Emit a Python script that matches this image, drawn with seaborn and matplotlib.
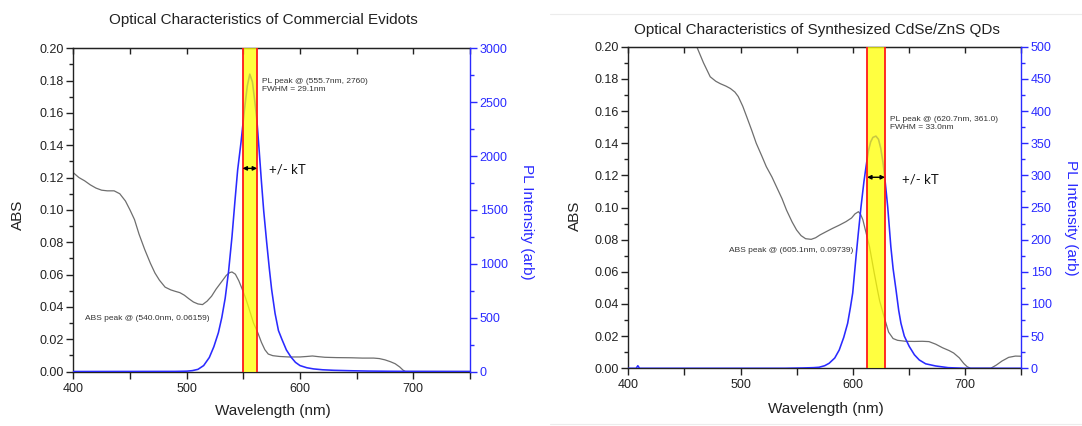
import matplotlib
matplotlib.use("Agg")
import matplotlib.pyplot as plt
from matplotlib.ticker import MultipleLocator, FormatStrFormatter
from matplotlib.lines import Line2D
import seaborn as sns

# ---------------- Commercial Evidots ----------------
evi_abs_wl = [400, 405, 410, 415, 420, 425, 430, 436, 441, 446, 450, 454, 458, 463,
              468, 472, 476, 481, 486, 490, 494, 498, 502, 506, 510, 514, 518, 522,
              526, 531, 535, 538, 540, 543, 546, 549, 552, 555, 559, 563, 566, 569,
              572, 576, 582, 590, 600, 606, 611, 616, 622, 632, 645, 655, 665, 670,
              675, 680, 684, 688, 691, 693, 750]
evi_abs = [0.123, 0.120, 0.118, 0.1155, 0.1135, 0.1122, 0.1118, 0.1118, 0.110, 0.1055,
           0.100, 0.094, 0.085, 0.0755, 0.067, 0.061, 0.0565, 0.0522, 0.0505, 0.0496,
           0.0488, 0.0472, 0.045, 0.043, 0.0418, 0.0414, 0.0435, 0.0466, 0.051, 0.0557,
           0.0595, 0.0612, 0.06159, 0.0602, 0.0562, 0.051, 0.0455, 0.039, 0.030, 0.0236,
           0.018, 0.0135, 0.0108, 0.0098, 0.0093, 0.009, 0.009, 0.0093, 0.0096, 0.0092,
           0.0088, 0.0086, 0.0085, 0.0083, 0.0083, 0.008, 0.0072, 0.006, 0.0048, 0.0028,
           0.0008, 0.0, 0.0]
evi_pl_wl = [400, 490, 500, 505, 510, 515, 520, 524, 528, 531, 534, 537, 540, 542.6,
             545, 548, 551, 553.5, 555.7, 558, 560, 562, 564, 566, 568, 570.6, 573,
             575, 578, 581, 584, 588, 592, 596, 600, 606, 612, 620, 630, 645, 660,
             680, 700, 750]
evi_pl = [0, 1, 3, 8, 20, 55, 130, 230, 360, 500, 680, 930, 1250, 1580, 1870, 2130,
          2430, 2650, 2760, 2690, 2520, 2330, 2050, 1760, 1490, 1200, 950, 760, 540,
          380, 300, 200, 135, 85, 55, 35, 24, 16, 11, 7, 4, 2, 1, 0]
evi_band = [549.3, 562.2]

# ---------------- Synthesized CdSe/ZnS QDs ----------------
qd_abs_wl = [400, 415, 430, 445, 455, 461, 467, 473, 478, 482, 487, 491, 495, 498, 502,
             505.5, 510, 514, 519, 523, 528, 532, 537, 541, 546, 550, 554, 558, 563,
             567, 571, 577, 582, 588, 594, 599, 602, 605.1, 607, 609, 612, 615, 619,
             622, 624, 628, 632, 636, 640, 647, 655, 662, 668, 674, 680, 686, 690,
             695, 699, 702, 705, 723, 728, 733, 739, 745, 750]
qd_abs = [0.31, 0.285, 0.258, 0.23, 0.212, 0.200, 0.19, 0.1813, 0.1785, 0.177, 0.1755,
          0.174, 0.1718, 0.169, 0.163, 0.1565, 0.148, 0.140, 0.132, 0.1254, 0.119,
          0.113, 0.1055, 0.0984, 0.091, 0.086, 0.0825, 0.0806, 0.0802, 0.0812, 0.083,
          0.0852, 0.087, 0.089, 0.0912, 0.0935, 0.096, 0.09739, 0.0958, 0.0925, 0.084,
          0.0756, 0.060, 0.049, 0.042, 0.032, 0.0225, 0.0185, 0.0174, 0.0168, 0.0167,
          0.0168, 0.0166, 0.015, 0.0128, 0.011, 0.0095, 0.0065, 0.003, 0.001, 0.0, 0.0,
          0.002, 0.0045, 0.0068, 0.0076, 0.0075]
qd_pl_wl = [400, 407, 408.5, 410, 540, 555, 565, 570, 575, 579, 584, 588, 592, 595.5,
            598, 600, 603, 605, 607.4, 610, 612, 614, 616, 618, 620.7, 623, 625, 627,
            628.5, 630, 631.2, 634, 636, 638.6, 641, 643, 646, 650.4, 655, 659.3, 665,
            674, 685, 700, 750]
qd_pl = [0, 0, 4, 0, 0, 0.5, 1.0, 1.6, 4, 7.8, 16, 28.5, 48, 70, 95, 117, 174, 210,
         251, 290, 315, 338, 352, 359, 361.0, 356, 342, 320, 298, 272, 251, 189, 155,
         122, 90, 70, 50, 34, 21, 13, 7, 3.6, 1, 0, 0]
qd_band = [612.8, 628.8]

ABS_COLOR = "#6e6e6e"
PL_COLOR = "#2a2aff"
TXT_COLOR = "#333333"

sns.set_style("ticks")
plt.rcParams["font.family"] = ["Liberation Sans", "DejaVu Sans"]

fig = plt.figure(figsize=(10.82, 4.26), dpi=100)


def px(x, y):
    """Figure-fraction coordinates from pixel position (origin top-left)."""
    return x / 1082.0, 1.0 - y / 426.0


def panel(rect, abs_wl, abs_v, pl_wl, pl_v, pl_max, pl_major, pl_minor, band,
          title, title_xy, pl_text, pl_text_xy, kt_xy, arrow_y, abs_text, abs_text_xy,
          abs_lbl_xy, pl_lbl_xy, x_lbl_xy):
    ax = fig.add_axes(rect)
    ax2 = ax.twinx()

    sns.lineplot(x=abs_wl, y=abs_v, ax=ax, color=ABS_COLOR, lw=0.9,
                 estimator=None, zorder=2)
    sns.lineplot(x=pl_wl, y=pl_v, ax=ax2, color=PL_COLOR, lw=1.15,
                 estimator=None, zorder=2)

    ax.set_xlim(400, 750)
    ax.set_ylim(0, 0.20)
    ax2.set_ylim(0, pl_max)
    ax.set_xlabel("")
    ax.set_ylabel("")
    ax2.set_ylabel("")

    # kT window around the PL peak
    ax2.axvspan(band[0], band[1], color="#ffff00", alpha=0.75, lw=0, zorder=3)
    for b in band:
        ax2.axvline(b, color="#ff1a1a", lw=1.3, zorder=4)

    ax.xaxis.set_major_locator(MultipleLocator(100))
    ax.xaxis.set_minor_locator(MultipleLocator(50))
    ax.yaxis.set_major_locator(MultipleLocator(0.02))
    ax.yaxis.set_minor_locator(MultipleLocator(0.01))
    ax.yaxis.set_major_formatter(FormatStrFormatter("%.2f"))
    ax2.yaxis.set_major_locator(MultipleLocator(pl_major))
    ax2.yaxis.set_minor_locator(MultipleLocator(pl_minor))

    ax.tick_params(axis="x", which="major", direction="out", length=5, width=1,
                   labelsize=9, colors="#222222", pad=3)
    ax.tick_params(axis="x", which="minor", direction="out", length=5, width=1,
                   colors="#222222")
    ax.tick_params(axis="y", which="major", direction="out", length=5, width=1,
                   labelsize=9, colors="#222222", pad=2)
    ax.tick_params(axis="y", which="minor", direction="out", length=3, width=1,
                   colors="#222222")
    ax2.tick_params(axis="y", which="major", direction="out", length=5, width=1,
                    labelsize=9, colors=PL_COLOR, pad=2)
    ax2.tick_params(axis="y", which="minor", direction="out", length=3, width=1,
                    colors=PL_COLOR)

    top = ax.secondary_xaxis("top")
    top.xaxis.set_major_locator(MultipleLocator(50))
    top.tick_params(axis="x", direction="in", length=4, width=1,
                    labeltop=False, colors="#222222")

    for s in ["left", "bottom", "top"]:
        ax.spines[s].set_color("#222222")
        ax.spines[s].set_linewidth(1.0)
    ax.spines["right"].set_visible(False)
    ax2.spines["right"].set_color(PL_COLOR)
    ax2.spines["right"].set_linewidth(1.0)
    for s in ["left", "bottom", "top"]:
        ax2.spines[s].set_visible(False)
    top.spines["top"].set_color("#222222")

    # annotations (ABS data coordinates), drawn above the band
    ax2.text(pl_text_xy[0], pl_text_xy[1], pl_text, transform=ax.transData,
             fontsize=6, color=TXT_COLOR, va="top", ha="left", linespacing=1.25,
             zorder=6)
    ax2.text(kt_xy[0], kt_xy[1], "+/- kT", transform=ax.transData,
             fontsize=9.5, color="#111111", va="center", ha="left",
             family=["Lato", "DejaVu Sans"], zorder=6)
    ax2.annotate("", xy=(band[0], arrow_y), xycoords=ax.transData,
                 xytext=(band[1], arrow_y), textcoords=ax.transData,
                 arrowprops=dict(arrowstyle="<|-|>", color="black", lw=1.0,
                                 mutation_scale=6, shrinkA=0, shrinkB=0),
                 zorder=6)
    ax.text(abs_text_xy[0], abs_text_xy[1], abs_text, fontsize=6,
            color=TXT_COLOR, va="center", ha="left", zorder=6)

    fig.text(*px(*title_xy), title, fontsize=11, color="#222222",
             ha="center", va="center")
    fig.text(*px(*abs_lbl_xy), "ABS", fontsize=11, color="#222222",
             ha="center", va="center", rotation=90)
    fig.text(*px(*pl_lbl_xy), "PL Intensity (arb)", fontsize=11, color=PL_COLOR,
             ha="center", va="center", rotation=270)
    fig.text(*px(*x_lbl_xy), "Wavelength (nm)", fontsize=11, color="#222222",
             ha="center", va="center")
    return ax, ax2


panel([73.3 / 1082, 1 - 371.5 / 426, (470 - 73.3) / 1082, (371.5 - 48.3) / 426],
      evi_abs_wl, evi_abs, evi_pl_wl, evi_pl, 3000, 500, 250, evi_band,
      "Optical Characteristics of Commercial Evidots", (263, 20),
      "PL peak @ (555.7nm, 2760)\nFWHM = 29.1nm", (566.5, 0.1815),
      (573, 0.125), 0.1257,
      "ABS peak @ (540.0nm, 0.06159)", (410.3, 0.0329),
      (18, 215), (527, 222), (273, 411))

panel([628.3 / 1082, 1 - 368.3 / 426, (1021 - 628.3) / 1082, (368.3 - 46.7) / 426],
      qd_abs_wl, qd_abs, qd_pl_wl, qd_pl, 500, 50, 25, qd_band,
      "Optical Characteristics of Synthesized CdSe/ZnS QDs", (817, 30),
      "PL peak @ (620.7nm, 361.0)\nFWHM = 33.0nm", (633.2, 0.1568),
      (643.9, 0.1175), 0.1188,
      "ABS peak @ (605.1nm, 0.09739)", (490, 0.0732),
      (575, 216), (1071, 218), (826, 409))

# faint frame around the second panel
fig.add_artist(Line2D([550 / 1082, 1.0], [1 - 14 / 426, 1 - 14 / 426],
                      transform=fig.transFigure, color="#ececec", lw=0.8))
fig.add_artist(Line2D([550 / 1082, 1.0], [1 - 424 / 426, 1 - 424 / 426],
                      transform=fig.transFigure, color="#ececec", lw=0.8))

fig.savefig("out.png", dpi=100, facecolor="white")
